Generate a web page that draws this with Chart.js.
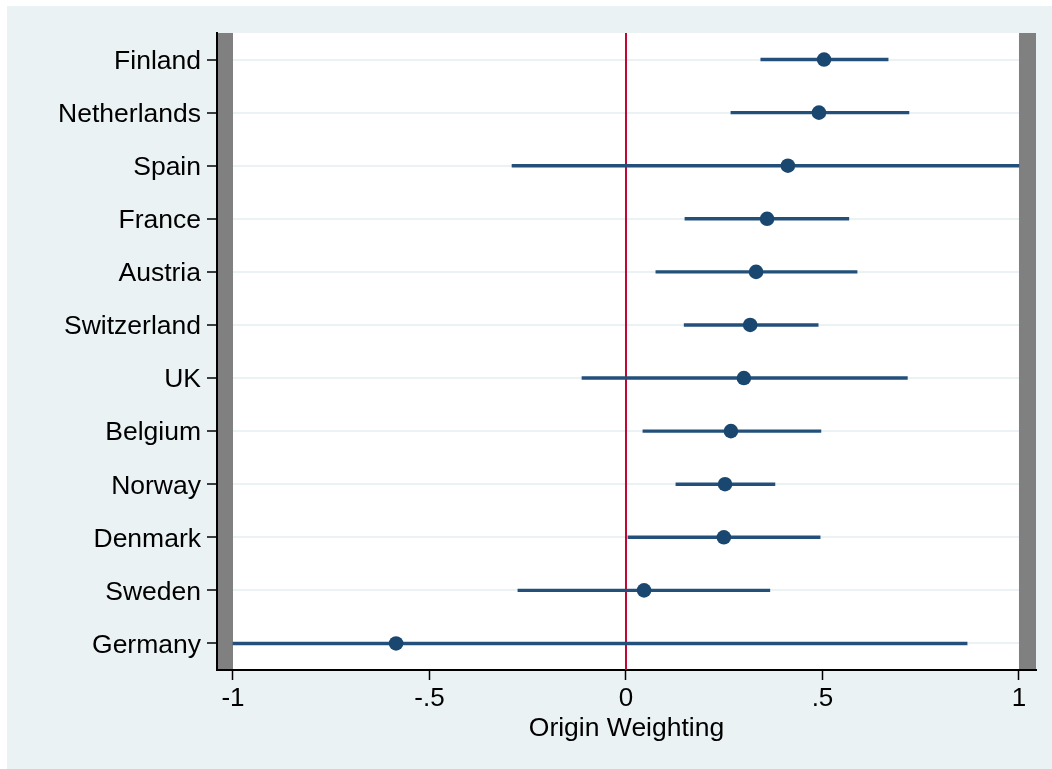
<!DOCTYPE html>
<html>
<head>
<meta charset="utf-8">
<script src="https://cdn.jsdelivr.net/npm/chart.js@4/dist/chart.umd.min.js"></script>
<style>
  html, body { margin: 0; padding: 0; background: #ffffff; }
  #wrap { position: absolute; left: 7px; top: 6px; width: 1045px; height: 763px; }
</style>
</head>
<body>
<div id="wrap"><canvas id="c" width="1045" height="763"></canvas></div>
<script>
// Country estimates with 95% confidence bounds
const countries = ['Finland', 'Netherlands', 'Spain', 'France', 'Austria', 'Switzerland',
                   'UK', 'Belgium', 'Norway', 'Denmark', 'Sweden', 'Germany'];
const estimates = [0.504, 0.491, 0.412, 0.359, 0.331, 0.316, 0.300, 0.267, 0.252, 0.249, 0.046, -0.585];
const ciLow     = [0.343, 0.267, -0.290, 0.150, 0.076, 0.148, -0.112, 0.043, 0.127, 0.005, -0.275, -1.000];
const ciHigh    = [0.667, 0.720, 1.000, 0.567, 0.588, 0.489, 0.716, 0.496, 0.379, 0.494, 0.366, 0.868];
const xTickValues = [-1, -0.5, 0, 0.5, 1];
const xTickLabels = ['-1', '-.5', '0', '.5', '1'];

const FONT = '"Liberation Sans", Arial, Helvetica, sans-serif';
const NAVY = '#1a476f';

// background, white plot region
const backdrop = {
  id: 'backdrop',
  beforeDraw(chart) {
    const { ctx, chartArea: a } = chart;
    ctx.save();
    ctx.fillStyle = '#eaf2f3';
    ctx.fillRect(0, 0, chart.width, chart.height);
    ctx.fillStyle = '#ffffff';
    ctx.fillRect(a.left, a.top, a.right - a.left, a.bottom - a.top);
    ctx.restore();
  }
};

// grey margins outside [-1, 1] and the reference line at zero
const bands = {
  id: 'bands',
  beforeDatasetsDraw(chart) {
    const { ctx, chartArea: a, scales: { x } } = chart;
    const xl = x.getPixelForValue(-1), xr = x.getPixelForValue(1), x0 = x.getPixelForValue(0);
    ctx.save();
    ctx.fillStyle = '#808080';
    ctx.fillRect(a.left + 1, a.top, xl - a.left - 1, a.bottom - a.top - 1);
    ctx.fillRect(xr, a.top, a.right - xr, a.bottom - a.top - 1);
    ctx.strokeStyle = '#c10534';
    ctx.lineWidth = 2;
    ctx.beginPath();
    ctx.moveTo(x0, a.top);
    ctx.lineTo(x0, a.bottom);
    ctx.stroke();
    ctx.restore();
  }
};

new Chart(document.getElementById('c'), {
  type: 'bar',
  data: {
    labels: countries,
    datasets: [
      {
        type: 'line',
        indexAxis: 'y',
        data: estimates,
        showLine: false,
        pointRadius: 7.3,
        pointHoverRadius: 7.3,
        pointBackgroundColor: NAVY,
        pointBorderColor: NAVY,
        pointBorderWidth: 0,
        order: 0
      },
      {
        type: 'bar',
        data: countries.map((_, i) => [ciLow[i], ciHigh[i]]),
        backgroundColor: '#23507a',
        borderWidth: 0,
        barThickness: 2.8,
        order: 1
      }
    ]
  },
  options: {
    indexAxis: 'y',
    responsive: false,
    animation: false,
    events: [],
    layout: { padding: { top: 27, right: 16, left: 0, bottom: 0 } },
    plugins: { legend: { display: false }, tooltip: { enabled: false } },
    scales: {
      x: {
        type: 'linear',
        min: -1.0407,
        max: 1.0433,
        afterBuildTicks(scale) { scale.ticks = xTickValues.map(v => ({ value: v })); },
        afterFit(scale) { scale.height = 99; },
        ticks: {
          autoSkip: false,
          maxRotation: 0,
          color: '#000',
          padding: 3,
          font: { family: FONT, size: 26 },
          callback: (v, i) => xTickLabels[i]
        },
        grid: { drawOnChartArea: false, tickLength: 10, tickColor: '#000', tickWidth: 1.5 },
        border: { color: '#000', width: 2 },
        title: {
          display: true,
          text: 'Origin Weighting',
          color: '#000',
          font: { family: FONT, size: 26.5 },
          padding: { top: 0, bottom: 24 }
        }
      },
      y: {
        type: 'category',
        offset: true,
        afterFit(scale) { scale.width = 210; },
        ticks: {
          color: '#000',
          padding: 6,
          labelOffset: 2,
          font: { family: FONT, size: 26.5 }
        },
        grid: { offset: false, color: '#eaf2f3', lineWidth: 2, tickLength: 10, tickColor: '#000', tickWidth: 1.5 },
        border: { color: '#000', width: 2 }
      }
    }
  },
  plugins: [backdrop, bands]
});
</script>
</body>
</html>
